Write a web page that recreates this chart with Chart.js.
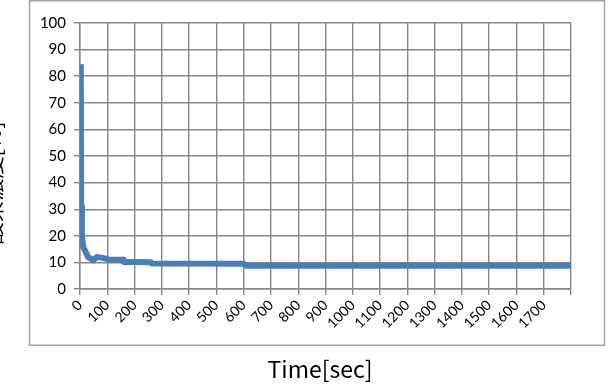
<!DOCTYPE html>
<html>
<head>
<meta charset="utf-8">
<script src="https://cdn.jsdelivr.net/npm/chart.js@4"></script>
<style>
  html, body { margin: 0; padding: 0; background: #fff; }
  #wrap { width: 613px; height: 388px; position: relative; }
</style>
</head>
<body>
<div id="wrap"><canvas id="chart" width="613" height="388"></canvas></div>
<script>
// ── DATA ──
const TIMES  = [3, 4, 7, 12, 30, 49, 61, 79, 104, 158, 160, 260, 263, 602, 606, 1800];
const VALUES = [84.5, 31, 20, 15.8, 12, 10.8, 12, 11.8, 11.1, 11.0, 10.2, 10.1, 9.6, 9.5, 8.7, 8.7];
const Y_TICKS = [0, 10, 20, 30, 40, 50, 60, 70, 80, 90, 100];
const X_LABEL_MAX = 1700;   // last labelled tick; the 1800 gridline has no label
const X_TITLE = 'Time[sec]';
const Y_TITLE = '酸素濃度[%]';

const GRID = '#858585';

// frame round the chart, x title, and the clipped y title on the far left
const framePlugin = {
  id: 'frame',
  afterDraw(chart) {
    const ctx = chart.ctx;
    ctx.save();
    ctx.strokeStyle = '#a6a6a6';
    ctx.lineWidth = 1.5;
    ctx.strokeRect(29.5, 0.75, 575, 344.5);

    ctx.fillStyle = '#000';
    ctx.font = "23px 'Noto Sans CJK JP'";
    ctx.textAlign = 'center';
    ctx.textBaseline = 'middle';
    ctx.fillText(X_TITLE, 320, 369);

    ctx.translate(-7, 183);
    ctx.rotate(-Math.PI / 2);
    ctx.font = "22px 'Noto Sans CJK JP'";
    ctx.fillText(Y_TITLE, 0, 0);
    ctx.restore();
  }
};

new Chart(document.getElementById('chart'), {
  type: 'line',
  data: {
    datasets: [{
      data: TIMES.map((t, i) => ({ x: t, y: VALUES[i] })),
      borderColor: '#4a7ebb',
      borderWidth: 6,
      borderJoinStyle: 'round',
      pointRadius: 0,
      tension: 0,
      fill: false,
    }]
  },
  options: {
    responsive: false,
    animation: false,
    layout: { padding: { left: 0, right: 42, top: 23, bottom: 0 } },
    plugins: { legend: { display: false }, tooltip: { enabled: false } },
    scales: {
      x: {
        type: 'linear',
        min: 0, max: 1800,
        afterBuildTicks: s => { s.ticks = []; for (let v = 0; v <= 1800; v += 100) s.ticks.push({ value: v }); },
        afterFit: s => { s.height = 99; },
        grid: { color: GRID, lineWidth: 1.4, tickLength: 6, drawTicks: true },
        border: { color: GRID, width: 1.4 },
        ticks: {
          color: '#000',
          font: { family: 'Lato', size: 14 },
          minRotation: 45, maxRotation: 45,
          padding: 2,
          autoSkip: false,
          callback: v => (v <= X_LABEL_MAX ? String(v) : ''),
        },
      },
      y: {
        min: 0, max: 100,
        afterBuildTicks: s => { s.ticks = Y_TICKS.map(v => ({ value: v })); },
        afterFit: s => { s.width = 80; },
        grid: { color: GRID, lineWidth: 1.4, tickLength: 6, drawTicks: true },
        border: { color: GRID, width: 1.4 },
        ticks: {
          color: '#000',
          font: { family: 'Lato', size: 15 },
          padding: 8,
        }
      }
    }
  },
  plugins: [framePlugin]
});
</script>
</body>
</html>
